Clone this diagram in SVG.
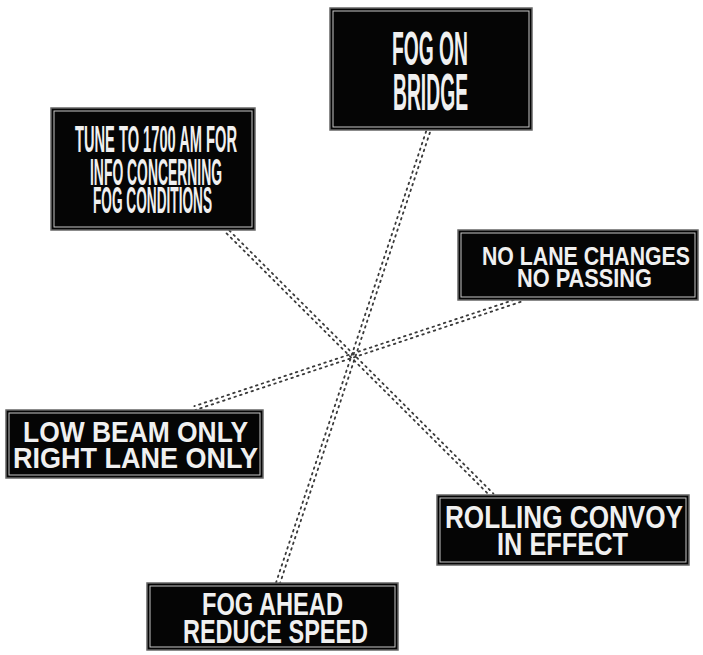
<svg xmlns="http://www.w3.org/2000/svg" width="703" height="655" viewBox="0 0 703 655">
<style>
.sign{fill:#050505;stroke:#666;stroke-width:1.5}
.inner{fill:none;stroke:#c8c8c8;stroke-width:1}
.t{font-family:"Liberation Sans","DejaVu Sans",sans-serif;font-weight:bold;fill:#f0f0f0}
.dot{fill:none;stroke:#3a3a3a;stroke-width:1.8;stroke-dasharray:1.6 4.4;stroke-linecap:round}
</style>
<rect width="703" height="655" fill="#ffffff"/>
<g id="connectors">
  <line class="dot" x1="429.9" y1="132.6" x2="279.9" y2="583.6"/>
  <line class="dot" x1="426.1" y1="131.4" x2="276.1" y2="582.4"/>
  <line class="dot" x1="229.4" y1="230.6" x2="493.4" y2="493.6"/>
  <line class="dot" x1="226.6" y1="233.4" x2="490.6" y2="496.4"/>
  <line class="dot" x1="520.6" y1="301.9" x2="195.6" y2="409.9"/>
  <line class="dot" x1="519.4" y1="298.1" x2="194.4" y2="406.1"/>
</g>
<g id="fog-on-bridge">
  <rect class="sign" x="330" y="8" width="202" height="122"/>
  <rect class="inner" x="333" y="11" width="196" height="116"/>
  <text class="t" x="392" y="65" font-size="48" textLength="76" lengthAdjust="spacingAndGlyphs">FOG ON</text>
  <text class="t" x="393" y="110" font-size="52" textLength="75" lengthAdjust="spacingAndGlyphs">BRIDGE</text>
</g>
<g id="tune-to-1700">
  <rect class="sign" x="51" y="108" width="204" height="122"/>
  <rect class="inner" x="54" y="111" width="198" height="116"/>
  <text class="t" x="75" y="152" font-size="36" textLength="162" lengthAdjust="spacingAndGlyphs">TUNE TO 1700 AM FOR</text>
  <text class="t" x="90" y="185" font-size="36" textLength="132" lengthAdjust="spacingAndGlyphs">INFO CONCERNING</text>
  <text class="t" x="93" y="213" font-size="36" textLength="119" lengthAdjust="spacingAndGlyphs">FOG CONDITIONS</text>
</g>
<g id="no-lane-changes">
  <rect class="sign" x="458" y="230" width="240" height="70"/>
  <rect class="inner" x="461" y="233" width="234" height="64"/>
  <text class="t" x="482" y="265" font-size="25" textLength="208" lengthAdjust="spacingAndGlyphs">NO LANE CHANGES</text>
  <text class="t" x="517" y="287" font-size="25" textLength="135" lengthAdjust="spacingAndGlyphs">NO PASSING</text>
</g>
<g id="low-beam-only">
  <rect class="sign" x="6" y="410" width="257" height="68"/>
  <rect class="inner" x="9" y="413" width="251" height="62"/>
  <text class="t" x="23" y="442" font-size="30" textLength="225" lengthAdjust="spacingAndGlyphs">LOW BEAM ONLY</text>
  <text class="t" x="13" y="468" font-size="30" textLength="245" lengthAdjust="spacingAndGlyphs">RIGHT LANE ONLY</text>
</g>
<g id="rolling-convoy">
  <rect class="sign" x="437" y="495" width="252" height="70"/>
  <rect class="inner" x="440" y="498" width="246" height="64"/>
  <text class="t" x="445" y="528" font-size="31" textLength="238" lengthAdjust="spacingAndGlyphs">ROLLING CONVOY</text>
  <text class="t" x="497" y="555" font-size="31" textLength="131" lengthAdjust="spacingAndGlyphs">IN EFFECT</text>
</g>
<g id="fog-ahead">
  <rect class="sign" x="147" y="583" width="251" height="67"/>
  <rect class="inner" x="150" y="586" width="245" height="61"/>
  <text class="t" x="202" y="615" font-size="31" textLength="141" lengthAdjust="spacingAndGlyphs">FOG AHEAD</text>
  <text class="t" x="183" y="643" font-size="33" textLength="185" lengthAdjust="spacingAndGlyphs">REDUCE SPEED</text>
</g>
</svg>
